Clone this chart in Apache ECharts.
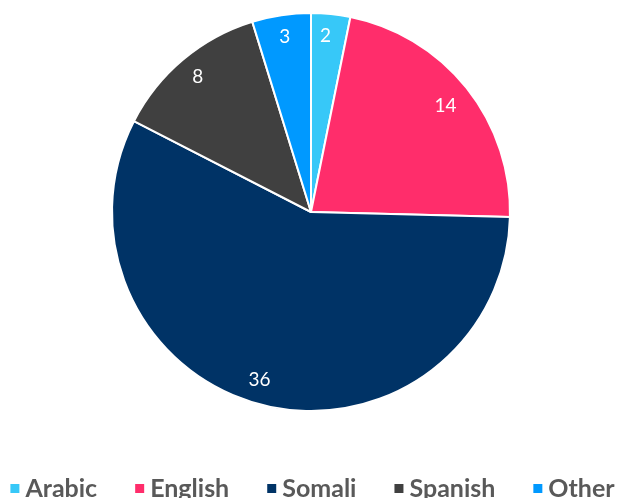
<!DOCTYPE html>
<html>
<head>
<meta charset="utf-8">
<script src="https://cdn.jsdelivr.net/npm/echarts@6/dist/echarts.min.js"></script>
<style>
  html, body { margin: 0; padding: 0; background: #fff; }
  #chart { width: 623px; height: 498px; }
</style>
</head>
<body>
<div id="chart"></div>
<script>
var languages = ['Arabic', 'English', 'Somali', 'Spanish', 'Other'];
var counts = [2, 14, 36, 8, 3];
var colors = ['#37C8F8', '#FF2D6B', '#003366', '#404040', '#0099FF'];
// small nudges so the labels sit where the original put them
var labelNudge = [[-3, -1], [-3, 4], [-8, -3], [0, 0], [0, -1]];

var pieData = languages.map(function (name, i) {
    return { name: name, value: counts[i], itemStyle: { color: colors[i] } };
});
// same slices, transparent, only used to carry the labels near the rim
var labelData = languages.map(function (name, i) {
    return { name: name, value: counts[i], label: { offset: labelNudge[i] } };
});

var chart = echarts.init(document.getElementById('chart'));
chart.setOption({
    animation: false,
    color: colors,
    legend: {
        data: languages,
        left: 'center',
        top: 471,
        icon: 'rect',
        itemWidth: 11,
        itemHeight: 11,
        itemGap: 36,
        textStyle: {
            fontFamily: 'Lato',
            fontWeight: 'bold',
            fontSize: 25,
            color: '#595959'
        }
    },
    series: [
        {
            name: 'lang',
            type: 'pie',
            center: [311, 212],
            radius: 199,
            startAngle: 90,
            clockwise: true,
            silent: true,
            itemStyle: { borderColor: '#fff', borderWidth: 2 },
            label: { show: false },
            labelLine: { show: false },
            data: pieData
        },
        {
            name: 'labels',
            type: 'pie',
            center: [311, 212],
            radius: [147, 199],
            startAngle: 90,
            clockwise: true,
            silent: true,
            itemStyle: { color: 'transparent', borderWidth: 0 },
            label: {
                show: true,
                position: 'inside',
                formatter: '{c}',
                color: '#fff',
                fontFamily: 'Lato',
                fontSize: 19
            },
            labelLine: { show: false },
            data: labelData
        }
    ]
});
</script>
</body>
</html>
